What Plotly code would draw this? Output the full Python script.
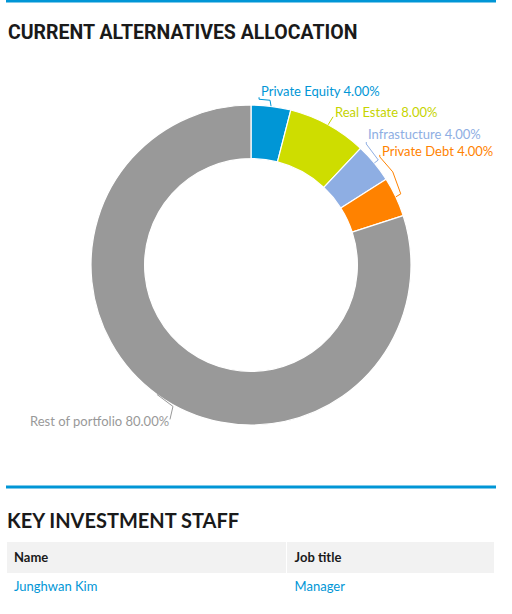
import math
import plotly.graph_objects as go

# ---- data ----
categories = ["Private Equity", "Real Estate", "Infrastucture", "Private Debt", "Rest of portfolio"]
values = [4.00, 8.00, 4.00, 4.00, 80.00]
staff_names = ["Junghwan Kim"]
staff_titles = ["Manager"]

# ---- style ----
colors = ["#0096D6", "#CEDD00", "#8EAEE3", "#FF8200", "#999999"]
label_colors = ["#0096D6", "#C5D400", "#8EAEE3", "#FF8200", "#999999"]
W, H = 512, 614
CX, CY, R = 251, 265, 160
# label offsets (px) relative to slice outer-mid point, and text anchor
label_off = [(-12, -15, "left"), (5, -13, "left"), (-8, -29, "left"), (-16, -46, "left"), (14, 27, "right")]
# leader polylines relative to the outer mid point
leaders = [
    [(0, 0), (-1, -6), (-12, -7), (-12, -9)],
    [(0, 0), (5, -8)],
    [(0, 0), (4, -3), (-8, -19), (-8, -21)],
    [(0, 0), (5, -3), (-3, -25), (-16, -40), (-16, -42)],
    [(0, 0), (16, 12), (13, 25)],
]

def px(x):
    return x / W

def py(y):
    return 1 - y / H

fig = go.Figure()
fig.add_trace(go.Pie(
    labels=categories, values=values, sort=False, direction="clockwise", rotation=0,
    hole=0.665, marker=dict(colors=colors, line=dict(color="white", width=1.2)),
    textinfo="none", hoverinfo="label+percent", showlegend=False,
    domain=dict(x=[px(CX - R), px(CX + R)], y=[py(CY + R), py(CY - R)]),
))

annotations = []
shapes = []
total = sum(values)
cum = 0
for i, (cat, v) in enumerate(zip(categories, values)):
    mid = (cum + v / 2) / total * 2 * math.pi
    cum += v
    ox = CX + R * math.sin(mid)
    oy = CY - R * math.cos(mid)
    dx, dy, anc = label_off[i]
    annotations.append(dict(
        x=px(ox + dx), y=py(oy + dy), xref="paper", yref="paper",
        text=f"{cat} {v:.2f}%", showarrow=False, xanchor=anc, yanchor="middle",
        font=dict(family="Lato", size=13, color=label_colors[i]),
    ))
    pts = leaders[i]
    path = "M " + " L ".join(f"{px(ox + a)},{py(oy + b)}" for a, b in pts)
    shapes.append(dict(type="path", xref="paper", yref="paper", path=path,
                       line=dict(color=label_colors[i], width=1)))

# section rules
for y in (1, 487):
    shapes.append(dict(type="line", xref="paper", yref="paper", x0=px(6), x1=px(496),
                       y0=py(y), y1=py(y), line=dict(color="#0096D6", width=3)))

annotations.append(dict(x=px(6), y=py(32), xref="paper", yref="paper", showarrow=False,
                        xanchor="left", yanchor="middle", text="<b>CURRENT ALTERNATIVES ALLOCATION</b>",
                        font=dict(family="Roboto", size=19.5, color="#1a1a1a")))
annotations.append(dict(x=px(5), y=py(520), xref="paper", yref="paper", showarrow=False,
                        xanchor="left", yanchor="middle", text="<b>KEY INVESTMENT STAFF</b>",
                        font=dict(family="Lato", size=20, color="#1a1a1a")))

fig.add_trace(go.Table(
    domain=dict(x=[px(6), px(494)], y=[py(600), py(541)]),
    columnwidth=[280, 207],
    header=dict(values=["<b>Name</b>", "<b>Job title</b>"], fill_color="#F2F2F2",
                line=dict(color="white", width=1), align="left", height=23,
                font=dict(family="Lato", size=13, color="#1a1a1a")),
    cells=dict(values=[staff_names, staff_titles], fill_color="white",
               line=dict(color="white", width=1), align="left", height=22,
               font=dict(family="Lato", size=13, color="#0096D6")),
))

fig.update_layout(width=W, height=H, margin=dict(l=0, r=0, t=0, b=0),
                  paper_bgcolor="white", plot_bgcolor="white",
                  annotations=annotations, shapes=shapes)
fig.write_html("out.html", config={"displayModeBar": False},
               post_script="document.body.style.margin='0';document.body.style.overflow='hidden';")
